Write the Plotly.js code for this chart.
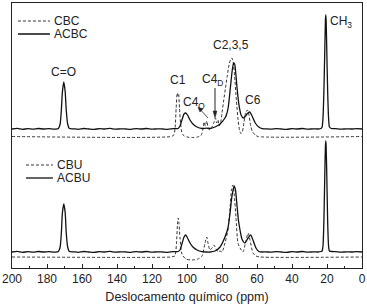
<!DOCTYPE html>
<html>
<head>
<meta charset="utf-8">
<script src="https://cdn.plot.ly/plotly-3.0.1.min.js"></script>
<style>html,body{margin:0;padding:0;background:#fff;}</style>
</head>
<body>
<div id="chart" style="width:367px;height:304px;"></div>
<script>
// ---- Data (chemical shift in ppm, intensity in arbitrary units incl. stacking offset) ----
const ppmACBC = [200,197,194,191,188,185,182,179,176,174,
  173.5,172.5,171.8,171.2,170.4,169.6,169,168.2,167.2,
  165,162,159,156,153,150,147,144,141,138,135,132,129,126,123,120,117,114,111,108,
  105.1,104,102.9,101.7,100.7,99.7,98.3,96.6,94.3,91.4,89,86.9,84,81.1,78.3,77.5,76.5,75.8,75,74.2,73.4,72.8,72.3,71.4,70.3,69.1,67.8,66.5,65.5,64.2,62.8,61,59,57,
  55,52,49,46,43,40,37,34,31,28,25,
  23.4,22.8,22.3,21.8,21.3,20.9,20.7,20.5,20.1,19.6,19.1,18.6,17.5,
  15,12,9,6,3,0];
const intACBC = [139,139.6,138.7,139.3,138.8,139.5,139,139.4,138.8,139.2,
  139.5,144,158,176,186,176,158,144,139.5,
  139.2,138.7,139.5,139,138.6,139.4,139,139.6,138.8,139.2,139,138.7,139.4,139,139.5,138.8,139.2,139,138.7,139.3,
  139.5,142,148,154,155,153,148,144,141,139.5,139.8,139.5,141,144,150,153,160,170,184,197,205,204,198,180,163,153,150,152,154.5,156,152,145,141,139.3,
  139.2,138.8,139.4,139,138.7,139.3,139,139.5,138.8,139.2,139,
  139.5,141,150,175,215,248,253,248,215,175,150,141,139.5,
  139.3,138.8,139.2,139,139.4,139];

const ppmCBC = [200,109,107.5,106.8,106.2,105.6,105.2,104.8,104.3,103.7,103,102,100,97,94,92,91,90.2,89.6,88.7,88,87,86,84.5,83.7,83,82.3,81.6,80.8,80,79,78,77,76,75,74.3,73.6,72.8,71.8,70.8,70,69.2,68.4,67.5,66.5,65.5,64.6,63.6,62.5,61,59.5,0];
const intCBC = [131.5,131.5,133,140,160,175,172,174,160,145,136,132.5,131,130.5,131,132.5,138,146,142,147,141,138,140,146,150,145,148,142,145,155,168,180,192,203,209,210,206,192,168,148,138,134.5,136,145,155,158,153,142,136,133,131.5,131.5];

const ppmACBU = [200,197,194,191,188,185,182,179,176,174,
  173.5,172.5,171.8,171.2,170.4,169.6,169,168.2,167.2,
  165,162,159,156,153,150,147,144,141,138,135,132,129,126,123,120,117,114,111,108,
  105.1,104,102.9,101.7,100.7,99.7,98.3,96.6,94.3,91.4,89,86.9,84,81.1,78.3,76.6,75.4,74.3,73.1,72.3,71.4,70.7,69.7,68.6,66.9,65.1,63.6,62.3,60.6,58.9,57,
  55,52,49,46,43,40,37,34,31,28,25,
  23.4,22.8,22.3,21.8,21.3,20.9,20.7,20.5,20.1,19.6,19.1,18.6,17.5,
  15,12,9,6,3,0];
const intACBU = [16,16.6,15.7,16.3,15.8,16.5,16,16.4,15.8,16.2,
  16.5,21,35,55,64,55,35,21,16.5,
  16.2,15.7,16.5,16,15.6,16.4,16,16.6,15.8,16.2,16,15.7,16.4,16,16.5,15.8,16.2,16,15.7,16.3,
  16.5,18,24,31,33,30,25,21,18,16.3,16,16,17,21,31,40,55,72,82,78,62,49,38,29,25,30,33,28,20,16.5,16,
  16.2,15.8,16.4,16,15.7,16.3,16,16.5,15.8,16.2,16,
  16.5,17,22,45,90,122,127,122,90,45,22,17,16.5,
  16.3,15.8,16.2,16,16.4,16];

const ppmCBU = [200,109,108,106.9,106,105.4,105,104.6,104,102.9,100.6,97.1,93.7,91.4,89.7,88.7,88,86.9,85.7,84.6,83.4,82.3,81.1,80,78.3,76.6,75.4,74.6,73.9,73.1,72,70.9,69.7,68,66.6,65.1,64,62.3,60.6,58.3,0];
const intCBU = [11,11,11.5,12,25,45,50,45,30,14,9,8,9,12,25,31,25,18,20,23,19,16,17,16,25,38,60,78,83,75,50,25,20,16,25,35,28,15,12,11,11];

const xTicks = [200,180,160,140,120,100,80,60,40,20,0];
const seriesNames = ['CBC','ACBC','CBU','ACBU'];

// ---- Styles ----
const solid = {color:'#111', width:1.3, shape:'spline', smoothing:0.6};
const dashed = {color:'#333', width:1, dash:'3px,2px', shape:'spline', smoothing:0.6};

const traces = [
  {x:ppmCBC, y:intCBC, name:seriesNames[0], mode:'lines', line:dashed},
  {x:ppmACBC, y:intACBC, name:seriesNames[1], mode:'lines', line:solid},
  {x:ppmCBU, y:intCBU, name:seriesNames[2], mode:'lines', line:dashed},
  {x:ppmACBU, y:intACBU, name:seriesNames[3], mode:'lines', line:solid}
];

const lbl = (x,y,t,anchor) => ({x:x, y:y, xref:'x', yref:'y', text:t, showarrow:false,
  xanchor:anchor||'center', yanchor:'middle', font:{size:12, color:'#222'}});

const annotations = [
  lbl(170.3,196,'C=O'),
  lbl(105.1,188,'C1'),
  lbl(85.6,188,'C4<sub>D</sub>'),
  lbl(96.0,165,'C4<sub>O</sub>'),
  lbl(74.9,223,'C2,3,5'),
  lbl(62.3,168,'C6'),
  lbl(19.3,246,'CH<sub>3</sub>','left'),
  // legends
  lbl(177.3,247,seriesNames[0],'left'),
  lbl(177.3,234,seriesNames[1],'left'),
  lbl(175.6,103,seriesNames[2],'left'),
  lbl(175.6,90,seriesNames[3],'left')
];

const blk = {color:'#222', width:1};
const shapes = [
  // legend keys
  {type:'line', xref:'x', yref:'y', x0:196.6, x1:178.3, y0:247, y1:247, line:{color:'#333', width:1, dash:'3px,2px'}},
  {type:'line', xref:'x', yref:'y', x0:196.6, x1:178.3, y0:234, y1:234, line:{color:'#111', width:1.3}},
  {type:'line', xref:'x', yref:'y', x0:192.0, x1:176.6, y0:103, y1:103, line:{color:'#333', width:1, dash:'3px,2px'}},
  {type:'line', xref:'x', yref:'y', x0:192.0, x1:176.6, y0:90, y1:90, line:{color:'#111', width:1.3}},
  // C4D arrow
  {type:'line', xref:'x', yref:'y', x0:84.0, x1:84.0, y0:180, y1:156, line:blk},
  {type:'path', xref:'x', yref:'y', path:'M84,150 L85.1,157 L82.9,157 Z', fillcolor:'#222', line:{color:'#222', width:0.5}},
  // C4O arrow
  {type:'line', xref:'x', yref:'y', x0:88.0, x1:91.8, y0:150, y1:157.3, line:{color:'#222', width:0.8}},
  {type:'path', xref:'x', yref:'y', path:'M93.71,161 L90.97,158.6 L92.63,156 Z', fillcolor:'#222', line:{color:'#222', width:0.5}}
];

const layout = {
  width:367, height:304,
  margin:{l:12, r:5, t:3, b:36},
  paper_bgcolor:'#fff', plot_bgcolor:'#fff',
  showlegend:false,
  font:{family:'"Liberation Sans", Arial, sans-serif', size:12, color:'#222'},
  xaxis:{
    range:[200,0], tickvals:xTicks, ticktext:xTicks.map(String),
    ticks:'inside', ticklen:4, tickwidth:1, tickcolor:'#222',
    minor:{dtick:10, tick0:0, ticks:'inside', ticklen:2.5, tickcolor:'#222', showgrid:false},
    showline:true, mirror:true, linecolor:'#222', linewidth:1,
    showgrid:false, zeroline:false, automargin:false,
    tickfont:{size:12, color:'#222'},
    title:{text:'Deslocamento químico (ppm)', font:{size:12.5, color:'#222'}, standoff:6}
  },
  yaxis:{
    range:[0,265], showticklabels:false, ticks:'',
    showline:true, mirror:true, linecolor:'#222', linewidth:1,
    showgrid:false, zeroline:false, automargin:false
  },
  annotations:annotations,
  shapes:shapes
};

Plotly.newPlot('chart', traces, layout, {staticPlot:true, displayModeBar:false});
</script>
</body>
</html>
